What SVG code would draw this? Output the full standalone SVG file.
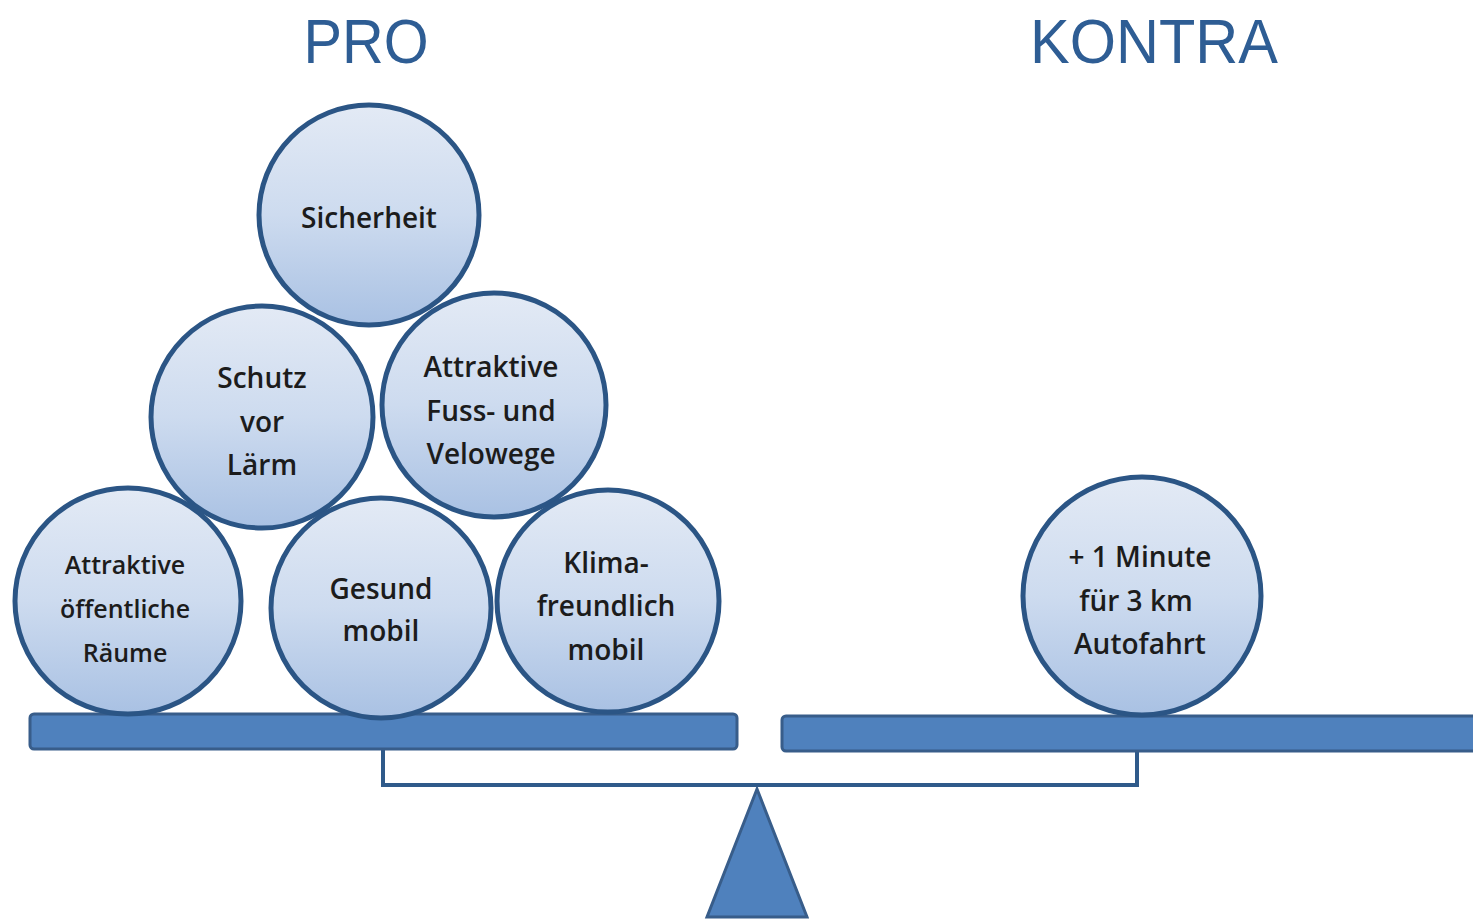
<svg xmlns="http://www.w3.org/2000/svg" width="1473" height="919" viewBox="0 0 1473 919">
<defs>
<linearGradient id="ball" x1="0" y1="0" x2="0" y2="1">
<stop offset="0" stop-color="#e3eaf5"/>
<stop offset="0.5" stop-color="#cddbef"/>
<stop offset="1" stop-color="#a9c1e3"/>
</linearGradient>
</defs>
<style>
.ball{fill:url(#ball);stroke:#2b5585;stroke-width:5}
.lbl{font-family:"Open Sans","Liberation Sans",sans-serif;font-size:28px;font-weight:600;fill:#1c1c1c;text-anchor:middle}
.sm{font-size:25px}
.title{font-family:"Liberation Sans",Arial,sans-serif;font-size:63px;fill:#2e5d94;text-anchor:middle}
.plank{fill:#4f81bd;stroke:#385d8a;stroke-width:3}
</style>
<rect width="1473" height="919" fill="#ffffff"/>
<text class="title" x="366" y="63" textLength="125" lengthAdjust="spacingAndGlyphs">PRO</text>
<text class="title" x="1154" y="63" textLength="248" lengthAdjust="spacingAndGlyphs">KONTRA</text>
<g id="connectors">
<polyline points="383,748 383,785 1137,785 1137,750" fill="none" stroke="#2f5a8a" stroke-width="4"/>
</g>
<g id="fulcrum"><polygon points="757,789 807,917 707,917" fill="#4f81bd" stroke="#385d8a" stroke-width="3"/></g>
<g id="plank-left"><rect class="plank" x="30" y="714" width="707" height="35" rx="4"/></g>
<g id="plank-right"><rect class="plank" x="782" y="716" width="700" height="35" rx="4"/></g>
<g id="n-sicherheit"><circle class="ball" cx="369" cy="215" r="110"/><text class="lbl" x="369" y="228">Sicherheit</text></g>
<g id="n-schutz"><circle class="ball" cx="262" cy="417" r="111"/><text class="lbl" x="262" y="388">Schutz</text><text class="lbl" x="262" y="432">vor</text><text class="lbl" x="262" y="475">Lärm</text></g>
<g id="n-fuss"><circle class="ball" cx="494" cy="405" r="112"/><text class="lbl" x="491" y="377">Attraktive</text><text class="lbl" x="491" y="421">Fuss- und</text><text class="lbl" x="491" y="464">Velowege</text></g>
<g id="n-raeume"><circle class="ball" cx="128" cy="601" r="113"/><text class="lbl sm" x="125" y="574">Attraktive</text><text class="lbl sm" x="125" y="618">öffentliche</text><text class="lbl sm" x="125" y="662">Räume</text></g>
<g id="n-gesund"><circle class="ball" cx="381" cy="608" r="110"/><text class="lbl" x="381" y="599">Gesund</text><text class="lbl" x="381" y="641">mobil</text></g>
<g id="n-klima"><circle class="ball" cx="608" cy="601" r="111"/><text class="lbl" x="606" y="573">Klima-</text><text class="lbl" x="606" y="616">freundlich</text><text class="lbl" x="606" y="660">mobil</text></g>
<g id="n-minute"><circle class="ball" cx="1142" cy="596" r="119"/><text class="lbl" x="1140" y="567">+ 1 Minute</text><text class="lbl" x="1136" y="611">für 3 km</text><text class="lbl" x="1140" y="654">Autofahrt</text></g>
</svg>
